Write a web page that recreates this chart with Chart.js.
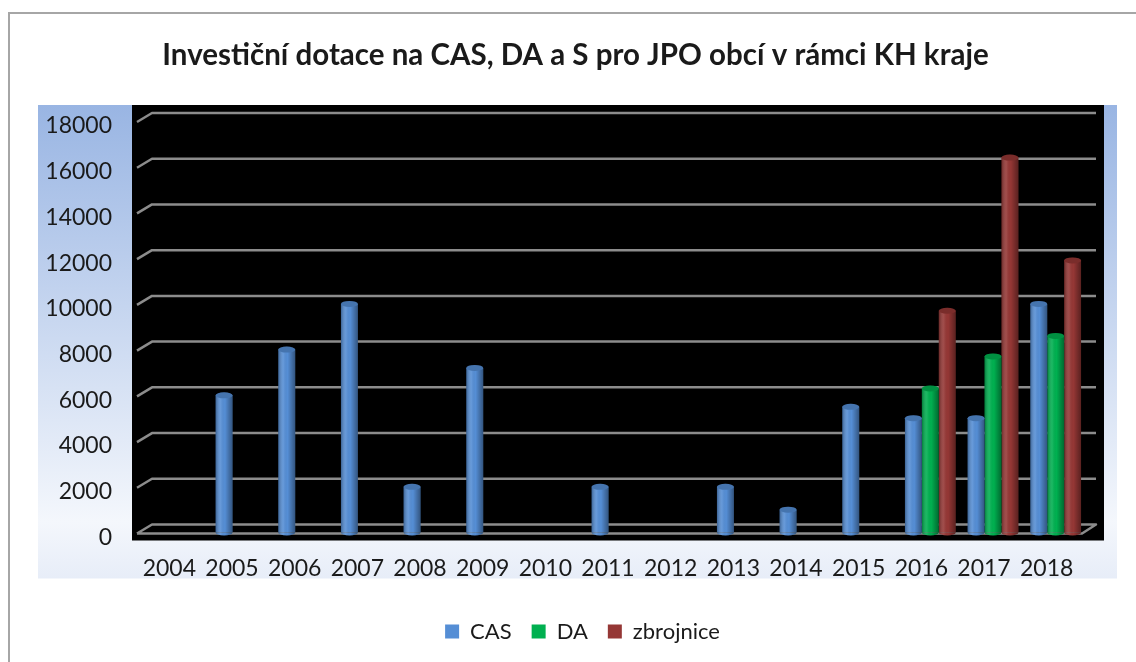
<!DOCTYPE html>
<html>
<head>
<meta charset="utf-8">
<script src="https://cdn.jsdelivr.net/npm/chart.js@4/dist/chart.umd.min.js"></script>
<style>
  html, body { margin: 0; padding: 0; background: #fff; }
  canvas { display: block; }
</style>
</head>
<body>
<canvas id="dotaceChart" width="1136" height="662"></canvas>
<script>
// Data
const years = ['2004', '2005', '2006', '2007', '2008', '2009', '2010', '2011', '2012', '2013', '2014', '2015', '2016', '2017', '2018'];
const casValues = [0, 6000, 8000, 10000, 2000, 7200, 0, 2000, 0, 2000, 1000, 5500, 5000, 5000, 10000];
const daValues = [0, 0, 0, 0, 0, 0, 0, 0, 0, 0, 0, 0, 6300, 7700, 8600];
const zbrojniceValues = [0, 0, 0, 0, 0, 0, 0, 0, 0, 0, 0, 0, 9700, 16400, 11900];
const seriesNames = ['CAS', 'DA', 'zbrojnice'];
const yMax = 18000;
const yStep = 2000;

const COLORS = ['#558ed5', '#00b050', '#953735'];
const FONT = 'Lato, "Open Sans", sans-serif';

// Background: outer border, blue gradient panel, black wall, 3D-ish gridlines
const backdropPlugin = {
    id: 'backdrop',
    afterLayout(chart) {
        // nudge title and legend to the right, as in the original
        chart.titleBlock.left += 13;
        chart.titleBlock.right += 13;
        chart.legend.left += 20;
        chart.legend.right += 20;
    },
    beforeDraw(chart) {
        const { ctx, chartArea: ca } = chart;
        ctx.save();
        ctx.fillStyle = '#ffffff';
        ctx.fillRect(0, 0, chart.width, chart.height);

        // outer frame
        ctx.strokeStyle = '#a6a6a6';
        ctx.lineWidth = 2;
        ctx.strokeRect(9, 13, chart.width + 20, chart.height + 20);

        // blue panel
        const top = ca.top - 16;
        const bottom = ca.bottom + 46;
        const grad = ctx.createLinearGradient(0, top, 0, bottom);
        grad.addColorStop(0, '#99b5e3');
        grad.addColorStop(0.88, '#f4f7fc');
        grad.addColorStop(1, '#e7edf8');
        ctx.fillStyle = grad;
        ctx.fillRect(ca.left - 109, top, (ca.right + 30) - (ca.left - 109), bottom - top);

        // black wall
        ctx.fillStyle = '#000000';
        ctx.fillRect(ca.left - 15, top, (ca.right + 17) - (ca.left - 15), (ca.bottom + 8) - top);
        ctx.restore();
    },
    beforeDatasetsDraw(chart) {
        const { ctx, chartArea: ca, scales } = chart;
        const y = scales.y;
        const depth = 8;
        const backL = ca.left + 5, backR = ca.right + 9, frontL = ca.left - 10;
        ctx.save();
        ctx.strokeStyle = '#8c8c8c';
        ctx.lineWidth = 2.5;
        ctx.lineJoin = 'round';
        y.ticks.forEach(t => {
            const py = y.getPixelForValue(t.value) - depth;
            ctx.beginPath();
            ctx.moveTo(frontL, py + depth + 1);
            ctx.lineTo(backL, py);
            ctx.lineTo(backR, py);
            if (t.value === 0) {
                ctx.lineTo(ca.right - 5, py + depth + 1);
                ctx.lineTo(frontL, py + depth + 1);
            }
            ctx.stroke();
        });
        ctx.restore();
    }
};

// Cylinder shading over the library's bar elements
const cylinderPlugin = {
    id: 'cylinders',
    afterDatasetsDraw(chart) {
        const ctx = chart.ctx;
        chart.data.datasets.forEach((ds, di) => {
            const meta = chart.getDatasetMeta(di);
            if (meta.hidden) return;
            meta.data.forEach(bar => {
                const { x, y, base, width } = bar.getProps(['x', 'y', 'base', 'width'], true);
                if (base - y < 1) return;
                const l = x - width / 2;
                const ry = 3;
                const shade = ctx.createLinearGradient(l, 0, l + width, 0);
                shade.addColorStop(0, 'rgba(0,0,0,0.30)');
                shade.addColorStop(0.3, 'rgba(255,255,255,0.10)');
                shade.addColorStop(0.55, 'rgba(0,0,0,0)');
                shade.addColorStop(1, 'rgba(0,0,0,0.40)');
                ctx.save();
                // bottom round
                ctx.beginPath();
                ctx.ellipse(x, base, width / 2, ry, 0, 0, Math.PI);
                ctx.fillStyle = ds.backgroundColor;
                ctx.fill();
                ctx.fillStyle = shade;
                ctx.fill();
                // body shading
                ctx.fillRect(l, y, width, base - y);
                // top cap
                ctx.beginPath();
                ctx.ellipse(x, y, width / 2, ry, 0, 0, Math.PI * 2);
                ctx.fillStyle = ds.backgroundColor;
                ctx.fill();
                ctx.fillStyle = 'rgba(0,0,0,0.18)';
                ctx.fill();
                ctx.restore();
            });
        });
    }
};

const ctx = document.getElementById('dotaceChart').getContext('2d');
new Chart(ctx, {
    type: 'bar',
    data: {
        labels: years,
        datasets: [
            { label: seriesNames[0], data: casValues, backgroundColor: COLORS[0] },
            { label: seriesNames[1], data: daValues, backgroundColor: COLORS[1] },
            { label: seriesNames[2], data: zbrojniceValues, backgroundColor: COLORS[2] }
        ]
    },
    options: {
        responsive: false,
        animation: false,
        devicePixelRatio: 1,
        layout: { padding: { left: 38, right: 49, top: 0, bottom: 9.5 } },
        datasets: {
            bar: { categoryPercentage: 0.81, barPercentage: 1.0, borderWidth: 0 }
        },
        plugins: {
            title: {
                display: true,
                text: 'Investiční dotace na CAS, DA a S pro JPO obcí v rámci KH kraje',
                color: '#1a1a1a',
                font: { family: FONT, size: 29.5, weight: 'bold' },
                padding: { top: 37.3, bottom: 48.3 }
            },
            legend: {
                position: 'bottom',
                labels: {
                    color: '#1a1a1a',
                    font: { family: FONT, size: 22 },
                    boxWidth: 14,
                    boxHeight: 14,
                    padding: 20
                }
            },
            tooltip: { enabled: false }
        },
        scales: {
            x: {
                grid: { display: false, drawTicks: false },
                border: { display: false },
                ticks: {
                    color: '#1a1a1a',
                    font: { family: FONT, size: 23 },
                    padding: 22,
                    labelOffset: -9,
                    maxRotation: 0,
                    autoSkip: false
                },
                afterFit(scale) { scale.height = 68; }
            },
            y: {
                min: 0,
                max: yMax,
                grid: { display: false, drawTicks: false },
                border: { display: false },
                ticks: {
                    stepSize: yStep,
                    color: '#1a1a1a',
                    font: { family: FONT, size: 23 },
                    padding: 35,
                    labelOffset: 5,
                    callback: value => String(value)
                },
                afterFit(scale) { scale.width = 109; }
            }
        }
    },
    plugins: [backdropPlugin, cylinderPlugin]
});
</script>
</body>
</html>
